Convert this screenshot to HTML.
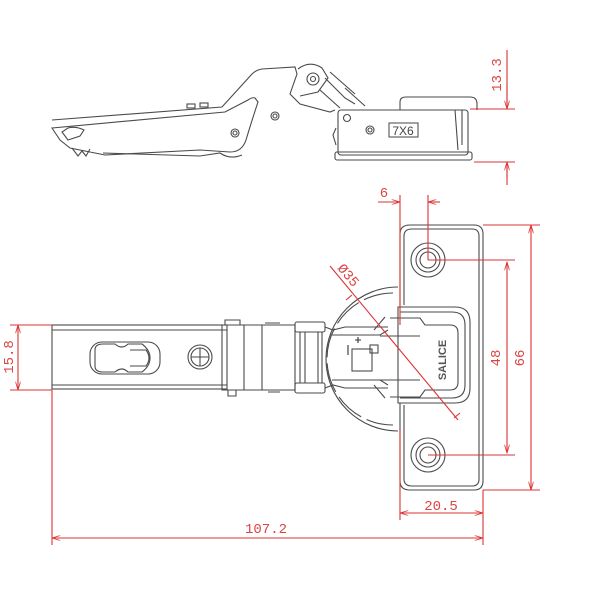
<!DOCTYPE html>
<html><head><style>
html,body{margin:0;padding:0;background:#fff;}
svg{display:block;}
text{font-family:"Liberation Mono",monospace;fill:#d44;}
</style></head><body>
<svg width="600" height="600" viewBox="0 0 600 600" xmlns="http://www.w3.org/2000/svg">
<defs>
<marker id="a" viewBox="0 0 10 6" refX="10" refY="3" markerWidth="9" markerHeight="5" orient="auto-start-reverse" markerUnits="userSpaceOnUse"><path d="M0,0L10,3L0,6" fill="none" stroke="#d33" stroke-width="1"/></marker>
</defs>
<g fill="none" stroke="#4a4a4a" stroke-width="1.1">
<!-- TOP VIEW -->
<path d="M52,120 L222,107 L252,74 Q256,70 262,69 L295,67 L297,74 L290,94 L300,104 L330,112 L335,110"/>
<path d="M52,128 L225,112 L248,100 Q252,97 255,98 L258,102 Q252,120 246,140 Q242,152 230,152 L200,150 L105,155 L70,148 L60,140 Z"/>
<path d="M103,153 L200,156 L220,153 Q230,160 242,155"/>
<circle cx="275" cy="116" r="4"/><circle cx="275" cy="116" r="2"/>
<circle cx="235" cy="133" r="4"/><circle cx="235" cy="133" r="2"/>
<circle cx="313" cy="79" r="6"/><circle cx="313" cy="79" r="2.5"/>
<path d="M298,69 Q310,60 322,68 L328,78 L318,92 L300,96"/>
<path d="M325,78 L345,98 L355,104 M320,90 L340,108 M330,72 L355,94 M345,88 L365,106"/>
<rect x="187" y="104" width="8" height="4"/><rect x="200" y="103" width="8" height="4"/>
<path d="M62,132 L68,140 L80,136 L84,130 Q76,126 68,128 Z"/>
<path d="M72,148 L78,156 L82,151 L86,156 L90,149"/>
<rect x="338" y="110" width="130" height="45" rx="3"/>
<rect x="335" y="152" width="137" height="8" rx="2"/>
<path d="M400,110 L400,102 Q400,97 406,97 L470,97 Q477,97 477,104 L477,110"/>
<path d="M455,110 L458,150 M462,110 L462,145"/>
<circle cx="347" cy="118" r="3.5"/>
<circle cx="370" cy="130" r="4"/><circle cx="370" cy="130" r="2"/>
<rect x="389" y="123" width="29" height="14" stroke="#555"/>
<path d="M336,128 L333,135 L336,145"/>
<!-- BOTTOM VIEW arm -->
<rect x="52" y="325" width="175" height="64"/>
<path d="M52,330 L227,330 M52,385 L227,385"/>
<rect x="90" y="342" width="70" height="32" rx="12"/>
<path d="M95,350 Q95,344 103,344 L115,344 Q122,350 128,344 L142,344 Q150,350 150,358 Q150,366 142,372 L128,372 Q122,366 115,372 L103,372 Q95,372 95,366 Z"/>
<path d="M130,350 L146,350 Q152,358 146,366 L130,366"/>
<circle cx="200" cy="357" r="12"/><circle cx="200" cy="357" r="9"/>
<path d="M191,357 L209,357 M200,348 L200,366"/>
<path d="M222,325 L262,325 L262,390 L222,390 Z M244,325 L244,390"/>
<path d="M225,325 L225,320 L240,320 L240,325 M228,390 L228,396 L236,396 L236,390 M265,323 L280,323 M268,392 L280,392"/>
<path d="M262,325 L295,325 L295,390 L262,390"/>
<rect x="295" y="322" width="30" height="10" rx="2"/>
<rect x="295" y="383" width="30" height="10" rx="2"/>
<path d="M300,332 L300,383 M305,332 L305,383 M318,332 L318,383 M322,332 L322,383"/>
<path d="M325,327 L333,330 L345,327 L388,327 M325,388 L333,385 L345,388 L388,388"/>
<path d="M332,335 L380,335 L388,330 M332,380 L380,380 L388,385"/>
<rect x="352" y="349" width="20" height="22"/>
<rect x="370" y="345" width="8" height="8"/>
<path d="M348,345 L348,355 M355,340 L361,340 M358,337 L358,343" stroke="#333"/>
<path d="M398,287 A72,72 0 0,0 398,431"/>
<path d="M393,293 A66,66 0 0,0 393,425" stroke-dasharray="30,6"/>
<path d="M410,225 L474,225 Q483,225 483,234 L483,481 Q483,490 474,490 L410,490 Q400,490 400,481 L400,403 L398,403 L398,307 L400,307 L400,234 Q400,225 410,225 Z"/>
<path d="M412,229 L472,229 Q479,229 479,236 L479,479 Q479,486 472,486 L412,486 Q404,486 404,479 L404,405 M404,305 L404,236 Q404,229 412,229"/>
<path d="M400,307 L455,307 Q470,307 470,322 L470,388 Q470,403 455,403 L400,403"/>
<path d="M400,312 L452,312 Q465,312 465,325 L465,385 Q465,398 452,398 L400,398"/>
<path d="M390,318 L420,318 L425,325 L450,325 Q458,325 458,333 L458,382 Q458,390 450,390 L425,390 L420,397 L390,397"/>
<path d="M385,317 L374,330 M385,398 L374,385 M380,336 L420,336 M380,380 L420,380"/>
<circle cx="428" cy="260" r="17"/><circle cx="428" cy="260" r="12"/><circle cx="428" cy="260" r="8"/>
<circle cx="428" cy="455" r="17"/><circle cx="428" cy="455" r="12"/><circle cx="428" cy="455" r="8"/>
</g>
<text x="0" y="0" transform="translate(446,360) rotate(-90)" text-anchor="middle" style="fill:#555;font-weight:bold;font-size:11px;font-family:'Liberation Sans',sans-serif">SALICE</text>
<text x="403" y="135" text-anchor="middle" style="fill:#444;font-size:12px;font-family:'Liberation Sans',sans-serif">7X6</text>
<g stroke="#d33" stroke-width="1.1" fill="none">
<path d="M470,109 L515,109 M474,162 L515,162 M507,50 L507,109 M507,162 L507,178"/>
<path d="M507,85 L507,109" marker-end="url(#a)"/>
<path d="M507,185 L507,162" marker-end="url(#a)"/>
<path d="M400,195 L400,325 M428,195 L428,260"/>
<path d="M378,202 L400,202" marker-end="url(#a)"/>
<path d="M440,202 L428,202" marker-end="url(#a)"/>
<path d="M483,225 L540,225 M483,490 L540,490 M428,260 L515,260 M428,455 L515,455"/>
<path d="M531,225 L531,490" marker-start="url(#a)" marker-end="url(#a)"/>
<path d="M507,262 L507,453" marker-start="url(#a)" marker-end="url(#a)"/>
<path d="M400,430 L400,520 M483,490 L483,545 M52,390 L52,545"/>
<path d="M400,513 L483,513" marker-start="url(#a)" marker-end="url(#a)"/>
<path d="M52,538 L483,538" marker-start="url(#a)" marker-end="url(#a)"/>
<path d="M10,325 L52,325 M10,390 L52,390"/>
<path d="M18,325 L18,390" marker-start="url(#a)" marker-end="url(#a)"/>
<path d="M330,266 L458,420"/>
<path d="M352,295 L346,300 M454,418 L460,413"/>
</g>
<text transform="translate(501,75) rotate(-90)" text-anchor="middle" font-size="14">13.3</text>
<text x="384" y="197" text-anchor="middle" font-size="14">6</text>
<text transform="translate(345,278) rotate(50)" text-anchor="middle" font-size="14">Ø35</text>
<text transform="translate(500,358) rotate(-90)" text-anchor="middle" font-size="14">48</text>
<text transform="translate(524,358) rotate(-90)" text-anchor="middle" font-size="14">66</text>
<text x="441" y="510" text-anchor="middle" font-size="14">20.5</text>
<text x="266" y="533" text-anchor="middle" font-size="14">107.2</text>
<text transform="translate(13,357) rotate(-90)" text-anchor="middle" font-size="14">15.8</text>
</svg>
</body></html>
